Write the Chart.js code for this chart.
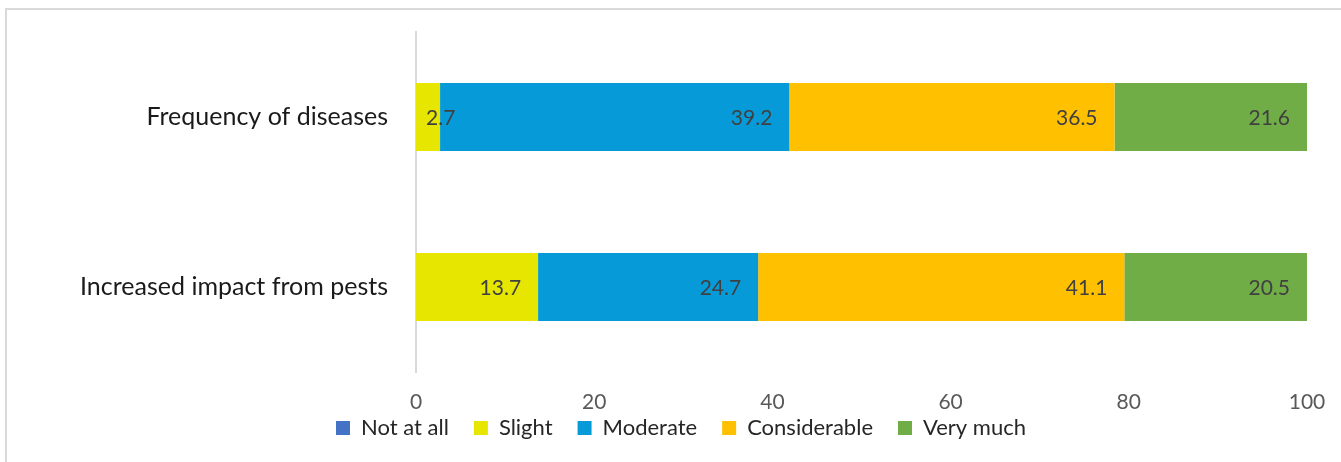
<!DOCTYPE html>
<html>
<head>
<meta charset="utf-8">
<script src="https://cdn.jsdelivr.net/npm/chart.js@4/dist/chart.umd.min.js"></script>
<style>
  html, body { margin: 0; padding: 0; background: #fff; }
  #wrap { position: relative; width: 1341px; height: 462px; }
</style>
</head>
<body>
<div id="wrap"><canvas id="c" width="1341" height="462"></canvas></div>
<script>
const categories = ["Frequency of diseases", "Increased impact from pests"];
const seriesNames = ["Not at all", "Slight", "Moderate", "Considerable", "Very much"];
const notAtAll = [0, 0];
const slight = [2.7, 13.7];
const moderate = [39.2, 24.7];
const considerable = [36.5, 41.1];
const veryMuch = [21.6, 20.5];
const xTicks = [0, 20, 40, 60, 80, 100];

const colors = ["#4472C4", "#E6E600", "#069BD8", "#FFC000", "#70AD47"];
const seriesValues = [notAtAll, slight, moderate, considerable, veryMuch];
const FONT = "Lato, 'Open Sans', sans-serif";

const frame = {
  id: "frame",
  beforeDraw(chart) {
    const ctx = chart.ctx;
    ctx.save();
    ctx.fillStyle = "#fff";
    ctx.fillRect(0, 0, chart.width, chart.height);
    ctx.strokeStyle = "#d9d9d9";
    ctx.lineWidth = 2;
    ctx.beginPath();
    ctx.moveTo(5, 9); ctx.lineTo(chart.width, 9);
    ctx.moveTo(6, 8); ctx.lineTo(6, chart.height);
    ctx.stroke();
    ctx.restore();
  }
};

// legend: reserve a compact row, then place it just under the x tick labels
const legendPlace = {
  id: "legendPlace",
  afterInit(chart) {
    const l = chart.legend;
    if (!l || l._patched) return;
    const origFit = l.fit.bind(l);
    l.fit = function () { origFit(); this.height = 36; };
    l._patched = true;
  },
  afterLayout(chart) {
    const l = chart.legend;
    if (!l) return;
    l.top = 392;
    l.bottom = chart.height;
  }
};

const labelsPlugin = {
  id: "insideEndLabels",
  afterDatasetsDraw(chart) {
    const ctx = chart.ctx;
    ctx.save();
    ctx.font = "21px " + FONT;
    ctx.fillStyle = "#404040";
    ctx.textBaseline = "middle";
    ctx.textAlign = "left";
    chart.data.datasets.forEach((ds, i) => {
      const meta = chart.getDatasetMeta(i);
      meta.data.forEach((el, j) => {
        const v = ds.data[j];
        if (!v) return;
        const txt = v.toFixed(1);
        const w = ctx.measureText(txt).width;
        const start = el.base, end = el.x;
        let left = end - 17 - w;
        if (left < start + 10) left = start + 10;
        ctx.fillText(txt, left, el.y + 1);
      });
    });
    ctx.restore();
  }
};

const datasets = seriesNames.map((name, i) => ({
  label: name,
  data: seriesValues[i],
  backgroundColor: colors[i],
  borderWidth: 0,
  barPercentage: 0.5,
  categoryPercentage: 0.8
}));

new Chart(document.getElementById("c"), {
  type: "bar",
  data: { labels: categories, datasets },
  plugins: [frame, legendPlace, labelsPlugin],
  options: {
    indexAxis: "y",
    responsive: false,
    animation: false,
    layout: { padding: { top: 32, right: 34, left: 55, bottom: 10 } },
    plugins: {
      tooltip: { enabled: false },
      legend: {
        position: "bottom",
        labels: {
          boxWidth: 14, boxHeight: 14,
          padding: 25,
          color: "#262626",
          font: { family: FONT, size: 22 }
        }
      }
    },
    scales: {
      x: {
        stacked: true,
        min: 0, max: 100,
        afterBuildTicks(scale) { scale.ticks = xTicks.map(v => ({ value: v })); },
        afterFit(scale) { scale.height = 44; scale.paddingLeft = 0; scale.paddingRight = 0; },
        grid: { display: false, drawTicks: false },
        border: { display: false },
        ticks: { color: "#595959", font: { family: FONT, size: 21 }, padding: 18 }
      },
      y: {
        stacked: true,
        afterFit(scale) { scale.width = 361; scale.paddingTop = 0; scale.paddingBottom = 0; },
        grid: { display: false, drawTicks: false },
        border: { display: true, color: "#d9d9d9", width: 2 },
        ticks: { color: "#1a1a1a", font: { family: FONT, size: 25 }, padding: 28 }
      }
    }
  }
});
</script>
</body>
</html>
